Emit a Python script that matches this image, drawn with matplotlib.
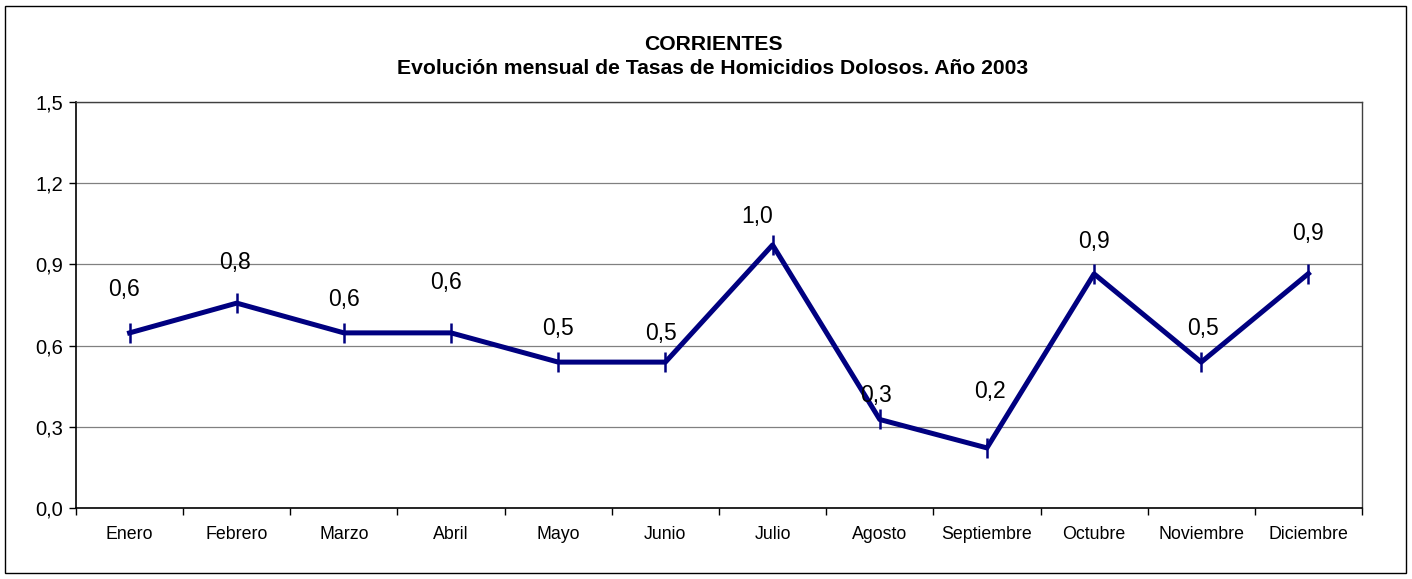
import matplotlib
matplotlib.use("Agg")
import matplotlib.pyplot as plt
from matplotlib.patches import Rectangle

plt.rcParams['font.family'] = ['Liberation Sans', 'DejaVu Sans']

months = ['Enero', 'Febrero', 'Marzo', 'Abril', 'Mayo', 'Junio', 'Julio',
          'Agosto', 'Septiembre', 'Octubre', 'Noviembre', 'Diciembre']
rates = [0.647, 0.757, 0.647, 0.647, 0.539, 0.539, 0.972,
         0.327, 0.222, 0.865, 0.539, 0.866]
y_ticks = [0.0, 0.3, 0.6, 0.9, 1.2, 1.5]

# data label placement (pixels from the point), as dragged in the original chart
label_offsets = [(-6, 43), (-2, 41), (0, 33), (-5, 50), (0, 34), (-4, 29),
                 (-15, 28), (-4, 24), (3, 56), (0, 32), (2, 34), (0, 40)]

W, H = 1412, 579
fig = plt.figure(figsize=(W / 100, H / 100), dpi=100)
fig.patch.set_facecolor('white')

# outer chart border
fig.patches.append(Rectangle((5 / W, 1 - 573 / H), (1406 - 5) / W, (573 - 6) / H,
                             transform=fig.transFigure, fill=False,
                             edgecolor='black', linewidth=1.0))

ax = fig.add_axes([76 / W, 1 - 508 / H, (1362 - 76) / W, (508 - 102) / H])

x = list(range(len(months)))
ax.plot(x, rates, color='#000080', linewidth=3.6, marker='|',
        markersize=14, markeredgewidth=1.8, zorder=3)

for xi, v, (dx, dy) in zip(x, rates, label_offsets):
    ax.annotate(f'{v:.1f}'.replace('.', ','), (xi, v), xytext=(dx, dy),
                textcoords='offset pixels', ha='center', va='center',
                fontsize=16.5, zorder=4)

ax.set_xlim(-0.5, len(months) - 0.5)
ax.set_ylim(0, 1.5)
ax.set_yticks(y_ticks)
ax.set_yticklabels([f'{t:.1f}'.replace('.', ',') for t in y_ticks], fontsize=14.5)
ax.yaxis.grid(True, color='#808080', linewidth=0.9)
ax.set_axisbelow(True)

# category ticks between months, labels centered on months
ax.set_xticks([i - 0.5 for i in range(len(months) + 1)])
ax.set_xticklabels([])
ax.set_xticks(x, minor=True)
ax.set_xticklabels(months, minor=True, fontsize=12.8)
ax.tick_params(axis='x', which='minor', length=0, pad=13)
ax.tick_params(axis='x', which='major', direction='out', length=5, width=1)
ax.tick_params(axis='y', direction='out', length=5, width=1, pad=4)

for side in ['left', 'bottom']:
    ax.spines[side].set_color('black')
    ax.spines[side].set_linewidth(1.2)
for side in ['top', 'right']:
    ax.spines[side].set_color('#404040')
    ax.spines[side].set_linewidth(1.0)

fig.text(713 / W, 1 - 45 / H, 'CORRIENTES', ha='center', va='center',
         fontsize=15.2, fontweight='bold')
fig.text(713 / W, 1 - 68 / H, 'Evolución mensual de Tasas de Homicidios Dolosos. Año 2003',
         ha='center', va='center', fontsize=15.2, fontweight='bold')

fig.savefig('out.png', dpi=100)
